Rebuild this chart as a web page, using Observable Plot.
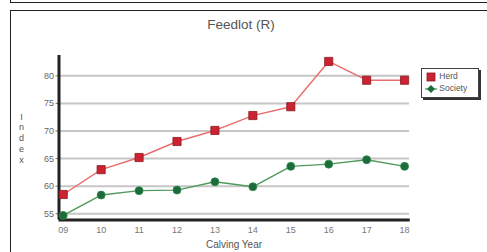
<!DOCTYPE html>
<html>
<head>
<meta charset="utf-8">
<script src="https://cdn.jsdelivr.net/npm/d3@7"></script>
<script src="https://cdn.jsdelivr.net/npm/@observablehq/plot@0.6"></script>
<style>
  html, body { margin: 0; padding: 0; background: #fff; overflow: hidden; }
  body { width: 487px; height: 252px; position: relative; font-family: Arial, "Liberation Sans", sans-serif; }
  #chart { position: absolute; left: 0; top: 0; }
  .frameTop { position: absolute; left: 10px; top: -2px; width: 490px; height: 4px; border-left: 1.5px solid #222; border-bottom: 1.5px solid #222; }
  .frameMain { position: absolute; left: 10px; top: 10px; width: 490px; height: 260px; border-left: 1.5px solid #222; border-top: 1.5px solid #222; }
  .title { position: absolute; left: 0; width: 482px; top: 17px; text-align: center; font-size: 13.5px; color: #555; }
  .xlabel { position: absolute; left: 0; width: 468px; top: 239px; text-align: center; font-size: 10px; line-height: 11px; color: #555; }
  .legend { position: absolute; left: 421px; top: 68px; width: 56px; height: 28px; border: 1px solid #444; box-shadow: 2px 2px 0 #333; background: #fff; font-size: 8.5px; color: #555; }
  .legend .row { position: absolute; left: 3px; height: 12px; line-height: 12px; white-space: nowrap; }
  .legend svg { vertical-align: middle; }
</style>
</head>
<body>
<div class="frameTop"></div>
<div class="frameMain"></div>
<div id="chart"></div>
<div class="title">Feedlot (R)</div>
<div class="xlabel">Calving Year</div>
<div class="legend">
  <div class="row" style="top:1px"><svg width="12" height="10"><rect x="2" y="1" width="8" height="8" fill="#cc2232" stroke="#8a1a22" stroke-width="0.8"/></svg> Herd</div>
  <div class="row" style="top:13px"><svg width="12" height="10"><line x1="0" y1="5" x2="12" y2="5" stroke="#4f9a5c" stroke-width="1.3"/><path d="M6 1 L10 5 L6 9 L2 5 Z" fill="#1d6b3a"/></svg> Society</div>
</div>
<script>
const years = [9, 10, 11, 12, 13, 14, 15, 16, 17, 18];
const herd = [58.5, 63.0, 65.2, 68.1, 70.1, 72.8, 74.4, 82.6, 79.2, 79.2];
const society = [54.7, 58.4, 59.2, 59.3, 60.8, 59.9, 63.6, 64.0, 64.8, 63.6];
const yTicks = [55, 60, 65, 70, 75, 80];
const seriesNames = ["Herd", "Society"];

const herdData = years.map((yr, i) => ({year: yr, value: herd[i], series: seriesNames[0]}));
const socData = years.map((yr, i) => ({year: yr, value: society[i], series: seriesNames[1]}));

const xDomain = [8.889, 18.13];
const yDomain = [53.88, 83.68];

const chart = Plot.plot({
  width: 487,
  height: 252,
  marginLeft: 58.5,
  marginRight: 78,
  marginTop: 55,
  marginBottom: 32.5,
  style: {fontFamily: "Arial, 'Liberation Sans', sans-serif", background: "transparent"},
  x: {domain: xDomain, axis: null, label: null},
  y: {domain: yDomain, axis: null, label: null},
  marks: [
    Plot.ruleY(yTicks, {x1: xDomain[0], x2: xDomain[1], stroke: "#c6c6c6", strokeWidth: 2}),
    Plot.axisY(yTicks, {label: null, tickSize: 3, tickPadding: 2, fontSize: 9, fill: "#666", stroke: "#777", tickFormat: d => String(d)}),
    Plot.axisX(years, {label: null, anchor: "bottom", tickSize: 2, tickPadding: 5, fontSize: 9, fill: "#777", stroke: "#bbb", tickFormat: d3.format("02d")}),
    Plot.ruleX([xDomain[0]], {y1: yDomain[0], y2: yDomain[1], stroke: "#222", strokeWidth: 3}),
    Plot.ruleY([yDomain[0]], {x1: xDomain[0], x2: xDomain[1] + 0.02, stroke: "#222", strokeWidth: 3}),
    Plot.line(herdData, {x: "year", y: "value", stroke: "#ea6d6d", strokeWidth: 1.4}),
    Plot.line(socData, {x: "year", y: "value", stroke: "#4f9a5c", strokeWidth: 1.4}),
    Plot.dot(herdData, {x: "year", y: "value", symbol: "square", r: 4.6, fill: "#cc2232", stroke: "#8a1a22", strokeWidth: 0.8}),
    Plot.dot(socData, {x: "year", y: "value", symbol: "circle", r: 4, fill: "#1d6b3a", stroke: "#2c8a4c", strokeWidth: 0.8}),
    Plot.text(["I\nn\nd\ne\nx"], {frameAnchor: "left", dx: -37.5, fontSize: 9, lineHeight: 1.2, fill: "#555", textAnchor: "middle"})
  ]
});
document.getElementById("chart").appendChild(chart);
</script>
</body>
</html>
